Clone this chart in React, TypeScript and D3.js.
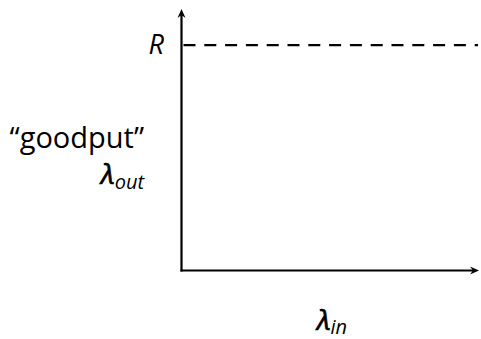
import React from "react";
import * as d3 from "d3";

const yLevels = [{ name: "R", value: 1 }];
const xDomain = [0, 1];
const yDomain = [0, 1.16];
const yLabelLines = ["“goodput”"];

export default function App() {
  const W = 481, H = 339;
  const x0 = 181.5, y0 = 270.5;
  const x = d3.scaleLinear().domain(xDomain).range([x0, 479]);
  const y = d3.scaleLinear().domain(yDomain).range([y0, 9]);
  const font = "'Open Sans', 'Noto Sans', sans-serif";
  const arrowUp = `M${x0 - 4},${y(yDomain[1]) + 9} L${x0},${y(yDomain[1])} L${x0 + 4},${y(yDomain[1]) + 9} L${x0},${y(yDomain[1]) + 6} Z`;
  const xe = x(xDomain[1]);
  const arrowRight = `M${xe - 9},${y0 - 4} L${xe},${y0} L${xe - 9},${y0 + 4} L${xe - 6},${y0} Z`;
  return (
    <svg width={W} height={H} style={{ position: "absolute", left: 0, top: 0, background: "#fff" }}>
      {yLevels.map((l) => (
        <g key={l.name}>
          <line x1={x0} x2={x(xDomain[1]) - 1} y1={y(l.value)} y2={y(l.value)} stroke="#000" strokeWidth={2.2} strokeDasharray="12,8.8" strokeDashoffset={-2} />
          <text x={164} y={y(l.value) + 9} textAnchor="end" fontFamily={font} fontStyle="italic" fontSize={27}>{l.name}</text>
        </g>
      ))}
      <line x1={x0} x2={x0} y1={y0 + 1} y2={y(yDomain[1]) + 4} stroke="#000" strokeWidth={2.2} />
      <line x1={x0 - 1} x2={xe - 4} y1={y0} y2={y0} stroke="#000" strokeWidth={2.2} />
      <path d={arrowUp} fill="#000" />
      <path d={arrowRight} fill="#000" />
      {yLabelLines.map((t, i) => (
        <text key={i} x={144} y={148} textAnchor="end" fontFamily={font} fontSize={29}>{t}</text>
      ))}
      <text x={144} y={184} textAnchor="end" fontFamily={font} fontSize={28}>
        <tspan fontStyle="italic" stroke="#000" strokeWidth={0.7}>λ</tspan>
        <tspan fontStyle="italic" fontSize={20} dy={5}>out</tspan>
      </text>
      <text x={332} y={330} textAnchor="middle" fontFamily={font} fontSize={28}>
        <tspan fontStyle="italic" stroke="#000" strokeWidth={0.7}>λ</tspan>
        <tspan fontStyle="italic" fontSize={20} dy={4}>in</tspan>
      </text>
    </svg>
  );
}
